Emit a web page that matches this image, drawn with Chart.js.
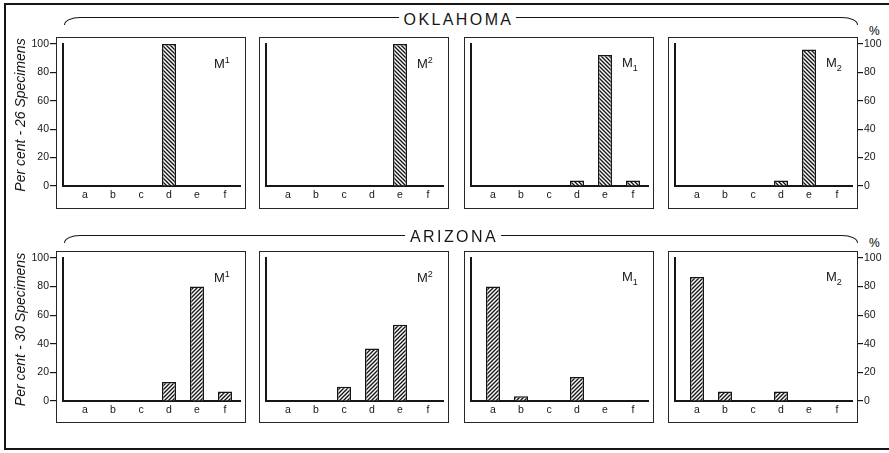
<!DOCTYPE html>
<html>
<head>
<meta charset="utf-8">
<title>Per cent of specimens - Oklahoma and Arizona</title>
<script src="https://cdn.jsdelivr.net/npm/chart.js@4.4.1/dist/chart.umd.min.js"></script>
<style>
  html, body { margin: 0; padding: 0; background: #fff; }
  body { position: relative; width: 889px; height: 453px; overflow: hidden;
         font-family: "Liberation Sans", Arial, sans-serif; color: #161616; }
  .outer { position: absolute; left: 4px; top: 3px; width: 920px; height: 443px;
           border: 2.5px solid #161616; }
  .frame { position: absolute; box-sizing: border-box; border: 1.5px solid #262626; }
  .panel { position: absolute; }
  .bracket { position: absolute; box-sizing: border-box; height: 8px;
             border: 1.5px solid #161616; border-bottom: none;
             border-radius: 16px 16px 0 0 / 8px 8px 0 0; }
  .region { position: absolute; transform: translate(-50%, -50%); background: #fff;
            padding: 0 3px 0 5px; font-size: 16px; letter-spacing: 2.4px; line-height: 1; }
  .tooth { position: absolute; font-size: 13px; line-height: 1; }
  .tooth sup, .tooth sub { font-size: 9px; }
  .pct { position: absolute; font-size: 12px; line-height: 12px; color: #000; }
</style>
</head>
<body>
<div class="outer"></div>
<script>
const categories = ['a', 'b', 'c', 'd', 'e', 'f']
const yTicks = [0, 20, 40, 60, 80, 100]
const regions = ['OKLAHOMA', 'ARIZONA']
const yTitles = ['Per cent - 26 Specimens', 'Per cent - 30 Specimens']
const teeth = ['M<sup>1</sup>', 'M<sup>2</sup>', 'M<sub>1</sub>', 'M<sub>2</sub>']

// per cent of specimens in each class a..f
const oklahomaM1up = [0, 0, 0, 100, 0, 0]
const oklahomaM2up = [0, 0, 0, 0, 100, 0]
const oklahomaM1low = [0, 0, 0, 3.8, 92.3, 3.8]
const oklahomaM2low = [0, 0, 0, 3.8, 96.2, 0]
const arizonaM1up = [0, 0, 0, 13.3, 80, 6.7]
const arizonaM2up = [0, 0, 10, 36.7, 53.3, 0]
const arizonaM1low = [80, 3.3, 0, 16.7, 0, 0]
const arizonaM2low = [86.7, 6.7, 0, 6.7, 0, 0]

const series = [
  [oklahomaM1up, oklahomaM2up, oklahomaM1low, oklahomaM2low],
  [arizonaM1up, arizonaM2up, arizonaM1low, arizonaM2low],
]

const ink = '#161616'
const frameLefts = [56, 259, 464, 668]
const frameTops = [37, 251]
const frameW = 190
const frameH = 172
const plotHeights = [142, 143]

Chart.defaults.font.family = '"Liberation Sans", Arial, sans-serif'
Chart.defaults.color = ink

const addDiv = (cls, style, html) => {
  const d = document.createElement('div')
  d.className = cls
  Object.assign(d.style, style)
  if (html) d.innerHTML = html
  document.body.appendChild(d)
  return d
}

// diagonal hatching, "\" on the top row and "/" on the bottom row
const hatch = (ctx, row) => {
  const s = 4
  const c = document.createElement('canvas')
  c.width = s; c.height = s
  const g = c.getContext('2d')
  g.fillStyle = '#fff'
  g.fillRect(0, 0, s, s)
  g.strokeStyle = ink
  g.lineWidth = 1.4
  g.beginPath()
  if (row === 0) {
    g.moveTo(-1, -1); g.lineTo(s + 1, s + 1)
    g.moveTo(s - 1, -1); g.lineTo(s + 1, 1)
    g.moveTo(-1, s - 1); g.lineTo(1, s + 1)
  } else {
    g.moveTo(-1, s + 1); g.lineTo(s + 1, -1)
    g.moveTo(-1, 1); g.lineTo(1, -1)
    g.moveTo(s - 1, s + 1); g.lineTo(s + 1, s - 1)
  }
  g.stroke()
  return ctx.createPattern(c, 'repeat')
}

const drawPanel = (row, col) => {
  const fl = frameLefts[col], ft = frameTops[row]
  const isLeft = col === 0, isRight = col === 3
  const plotH = plotHeights[row]

  addDiv('frame', { left: fl + 'px', top: ft + 'px', width: frameW + 'px', height: frameH + 'px' })

  const canvas = document.createElement('canvas')
  canvas.className = 'panel'
  canvas.width = 278; canvas.height = 184
  canvas.style.left = (fl - 56) + 'px'
  canvas.style.top = (ft - 10) + 'px'
  document.body.appendChild(canvas)
  const ctx = canvas.getContext('2d')

  const scales = {
    x: {
      type: 'linear', min: -0.786, max: 5.536, offset: false,
      afterBuildTicks: s => { s.ticks = categories.map((c, i) => ({ value: i })) },
      afterFit: s => { s.height = 165 - plotH },
      ticks: { callback: v => categories[v] ?? '', padding: 3, font: { size: 10.5 }, color: ink,
               maxRotation: 0, autoSkip: false },
      grid: { offset: false, drawOnChartArea: false, drawTicks: false, color: 'transparent' },
      border: { display: true, color: ink, width: 2 },
    },
    y: {
      position: 'left', min: 0, max: 100, weight: 0,
      afterFit: s => { s.width = 7 },
      ticks: { display: false },
      grid: { drawOnChartArea: false, drawTicks: false, color: 'transparent' },
      border: { display: true, color: ink, width: 2 },
    },
  }
  if (isLeft) {
    scales.yl = {
      position: 'left', min: 0, max: 100, weight: 1,
      afterBuildTicks: s => { s.ticks = yTicks.map(v => ({ value: v })) },
      afterFit: s => { s.width = 56 },
      ticks: { padding: 1, font: { size: 10.5 }, color: ink },
      grid: { drawOnChartArea: false, drawTicks: true, tickLength: 6, color: ink, lineWidth: 1.2 },
      border: { display: false },
      title: { display: true, text: yTitles[row], color: ink, padding: { top: 12.6, bottom: 0 },
               font: { size: 14, style: 'italic' } },
    }
  }
  if (isRight) {
    scales.ygap = {
      position: 'right', min: 0, max: 100, weight: 0,
      afterFit: s => { s.width = 6 },
      ticks: { display: false },
      grid: { display: false },
      border: { display: false },
    }
    scales.yr = {
      position: 'right', min: 0, max: 100, weight: 1,
      afterBuildTicks: s => { s.ticks = yTicks.map(v => ({ value: v })) },
      afterFit: s => { s.width = 32 },
      ticks: { padding: 1, font: { size: 10.5 }, color: ink },
      grid: { drawOnChartArea: false, drawTicks: true, tickLength: 5, color: ink, lineWidth: 1.2 },
      border: { display: false },
    }
  }

  new Chart(ctx, {
    type: 'bar',
    data: {
      datasets: [{
        data: series[row][col].map((v, i) => ({ x: i, y: v })),
        backgroundColor: hatch(ctx, row),
        borderColor: ink,
        borderWidth: 1.5,
        barPercentage: 0.5,
        categoryPercentage: 1,
      }],
    },
    options: {
      responsive: false,
      animation: false,
      events: [],
      layout: { padding: { left: isLeft ? 0 : 56, right: isRight ? 0 : 38, top: 17, bottom: 2 } },
      plugins: { legend: { display: false }, tooltip: { enabled: false } },
      scales,
    },
  })

  addDiv('tooth', { left: (fl + 158) + 'px', top: (ft + 19) + 'px' }, teeth[col])
}

const bracketTops = [17, 235]
const regionCenters = [[457.5, 19.5], [453, 236.5]]
const pctTops = [25, 237]

regions.forEach((name, row) => {
  addDiv('bracket', { left: '64px', top: bracketTops[row] + 'px', width: '794px' })
  addDiv('region', { left: regionCenters[row][0] + 'px', top: regionCenters[row][1] + 'px' }, name)
  addDiv('pct', { left: '869px', top: pctTops[row] + 'px' }, '%')
  for (let col = 0; col < 4; col++) drawPanel(row, col)
})
</script>
</body>
</html>
